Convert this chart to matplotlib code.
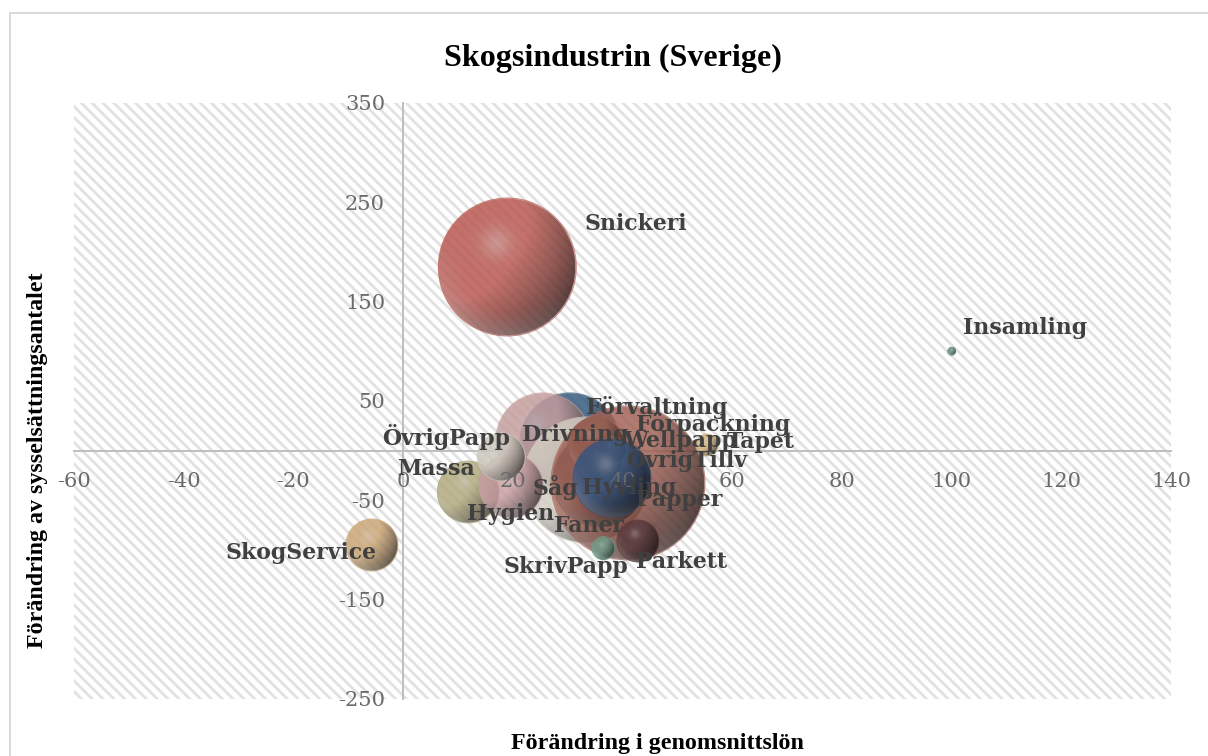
from matplotlib import pyplot as plt
from matplotlib.colors import to_rgb
from matplotlib.lines import Line2D
import numpy as np

names = ["Förvaltning", "Drivning", "Såg", "Papper", "Faner", "Förpackning", "ÖvrigTillv",
         "Wellpapp", "Hyvling", "Massa", "Hygien", "ÖvrigPapp", "SkogService",
         "Parkett", "SkrivPapp", "Tapet", "Snickeri", "Insamling"]
lon = [30.4, 25.5, 33.4, 41.0, 35.9, 35.2, 35.9, 38.1, 38.1, 11.9, 19.7, 17.9, -5.7,
       42.8, 36.5, 55.4, 19.0, 100.0]
syss = [7.8, 10.8, -29.5, -32.5, -29.5, 5.7, -11.4, 0.7, -27.5, -41.6, -35.5, -6.3, -95.0,
        -90.9, -98.0, 5.7, 184.9, 100.0]
storlek = [2500, 2209, 3969, 5929, 2209, 784, 484, 196, 1521, 961, 1024, 576, 676,
           441, 132, 121, 4761, 16]
farger = ["#355a7c", "#c49c9c", "#d4cec2", "#a26256", "#8f5a50", "#945c50", "#945c50",
          "#945c50", "#34557f", "#b0a87c", "#c99ea2", "#cbc7bc", "#c9a474",
          "#5a3a3c", "#6f9c88", "#cdae78", "#b8564e", "#5f8a7a"]

# label offset from bubble centre, in pixels (x right, y up)
label_px = {
    "Förvaltning": (16, 35), "Drivning": (-21, 5), "Såg": (-54, -8), "Papper": (8, -17),
    "Faner": (-46, -46), "Förpackning": (40, 21), "ÖvrigTillv": (26, 3),
    "Wellpapp": (11, 9), "Hyvling": (-30, -10), "Massa": (-71, 23), "Hygien": (-44, -28),
    "ÖvrigPapp": (-119, 20), "SkogService": (-146, -8), "Parkett": (-2, -21),
    "SkrivPapp": (-100, -19), "Tapet": (20, 3), "Snickeri": (77, 43), "Insamling": (11, 23),
}

x_ticks = [-60, -40, -20, 0, 20, 40, 60, 80, 100, 120, 140]
y_ticks = [-250, -150, -50, 50, 150, 250, 350]

DPI = 130
W, H = 1208, 756


def pt(px):
    return px * 72 / DPI


def sphere(color, n=320):
    u, v = np.meshgrid(np.linspace(-1, 1, n), np.linspace(1, -1, n))
    d = np.sqrt(u**2 + v**2)
    base = np.array(to_rgb(color))
    # darker towards lower right, pale spot upper left, light rim at the bottom
    dark = np.clip(0.55 * (u - 0.8 * v) + 0.3 * d**3, 0, 1)
    spot = np.exp(-((u + 0.15) ** 2 + (v - 0.35) ** 2) / 0.05)
    rim = np.clip(d - 0.65, 0, 0.35) / 0.35 * np.clip(-v - u * 0.4, 0, 1)
    img = np.zeros((n, n, 4))
    for i in range(3):
        c = base[i] * (1 - 0.72 * dark)
        c = c + (0.75 - c) * 0.3 * rim
        c = c + (base[i] * 0.5 + 0.42 - c) * 0.65 * spot
        img[..., i] = c
    img[..., 3] = 0.84 * np.clip((1 - d) * n / 2, 0, 1)
    return np.clip(img, 0, 1)


plt.rcParams["hatch.linewidth"] = pt(2.8)
plt.rcParams["font.family"] = ["Liberation Serif", "DejaVu Serif"]
plt.rcParams["axes.unicode_minus"] = False

fig = plt.figure(figsize=(W / DPI, H / DPI), dpi=DPI)
ax = fig.add_axes([74 / W, 1 - 699 / H, 1097 / W, 596 / H])
ax.set_xlim(-60, 140)
ax.set_ylim(-250, 350)
ax.patch.set(facecolor="white", edgecolor="#e2e2e2", hatch=chr(92) * 4, linewidth=0)

sx = 1097 / 200
sy = 596 / 600
for i, name in enumerate(names):
    r = np.sqrt(storlek[i])
    ext = [lon[i] - r / sx, lon[i] + r / sx, syss[i] - r / sy, syss[i] + r / sy]
    ax.imshow(sphere(farger[i]), extent=ext, aspect="auto", zorder=2 + i * 0.01,
              interpolation="bilinear")
    ax.scatter(lon[i], syss[i], s=pt(2 * r) ** 2, facecolor="none", edgecolor=farger[i],
               linewidth=pt(1), alpha=0.7, zorder=2 + i * 0.01)
    dx, dy = label_px[name]
    ax.annotate(name, (lon[i], syss[i]), xytext=(pt(dx), pt(dy)), textcoords="offset points",
                fontsize=pt(22), fontweight="bold", color="#404040", va="center", ha="left",
                family="DejaVu Serif", zorder=4)
ax.set_xlim(-60, 140)
ax.set_ylim(-250, 350)

for s in ["top", "right"]:
    ax.spines[s].set_visible(False)
ax.spines["left"].set_position(("data", 0))
ax.spines["bottom"].set_position(("data", 0))
ax.spines["left"].set(color="#bfbfbf", linewidth=pt(2), zorder=1)
ax.spines["bottom"].set(color="#bfbfbf", linewidth=pt(2), zorder=1)
ax.set_xticks(x_ticks)
ax.set_yticks(y_ticks)
ax.tick_params(axis="both", length=0, labelsize=pt(21), labelcolor="#6a6a6a")
ax.tick_params(axis="x", pad=pt(21))
ax.tick_params(axis="y", pad=pt(18))
for t in ax.get_xticklabels() + ax.get_yticklabels():
    t.set_family("DejaVu Serif")
ax.set_axisbelow(False)

fig.text(613 / W, 1 - 58 / H, "Skogsindustrin (Sverige)", fontsize=pt(32), fontweight="bold",
         ha="center", va="center", color="black")
fig.text(657 / W, 1 - 743 / H, "Förändring i genomsnittslön", fontsize=pt(24), fontweight="bold",
         ha="center", va="center", color="black")
fig.text(38 / W, 1 - 460 / H, "Förändring av sysselsättningsantalet", fontsize=pt(24),
         fontweight="bold", rotation=90, ha="center", va="center", color="black")

fig.add_artist(Line2D([10 / W, 10 / W], [0, 1 - 13 / H], color="#d9d9d9", linewidth=pt(2)))
fig.add_artist(Line2D([10 / W, 1], [1 - 13 / H, 1 - 13 / H], color="#d9d9d9", linewidth=pt(2)))

fig.savefig("out.png", dpi=DPI)
